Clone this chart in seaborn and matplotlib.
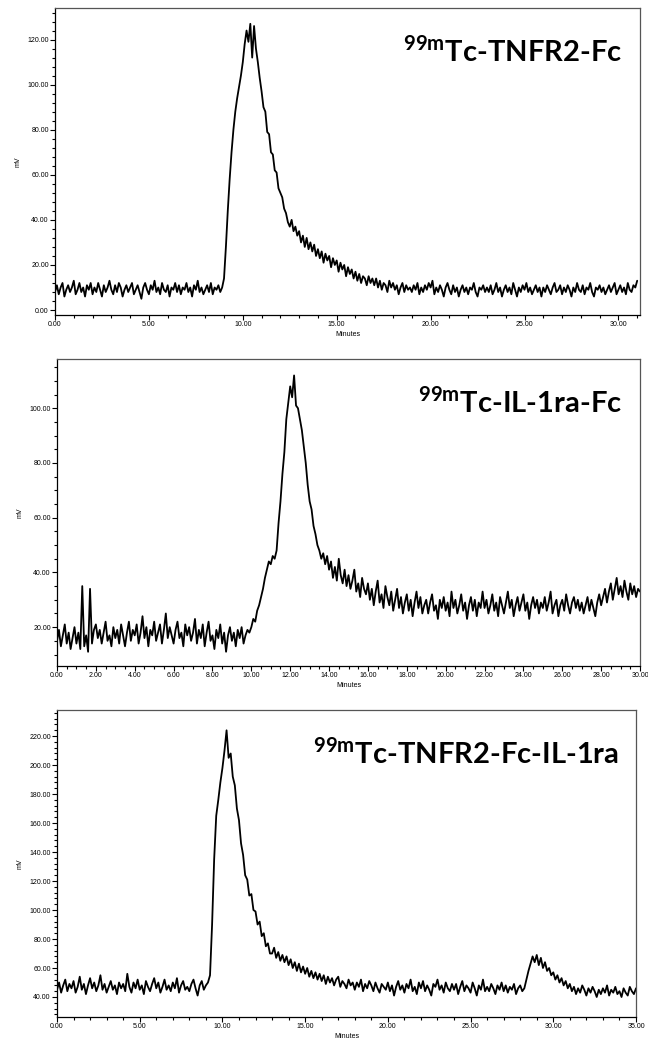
import numpy as np
import pandas as pd
import matplotlib
matplotlib.use("Agg")
import matplotlib.pyplot as plt
import matplotlib.ticker as mticker
import seaborn as sns

# panel 1: 99mTc-TNFR2-Fc, sampled every 0.1 min from 0 to 31
tnfr2_mv = [
    8, 11, 7, 10, 12, 6, 9, 11, 8, 10,
    13, 7, 9, 12, 8, 10, 6, 11, 9, 12,
    7, 10, 8, 12, 9, 6, 11, 8, 10, 13,
    9, 7, 11, 8, 12, 10, 6, 9, 11, 8,
    10, 12, 7, 9, 11, 8, 5, 10, 12, 9,
    7, 11, 9, 13, 8, 10, 7, 12, 9, 8,
    11, 6, 10, 9, 12, 8, 11, 7, 10, 9,
    12, 8, 10, 6, 11, 9, 13, 8, 10, 7,
    9, 11, 8, 12, 7, 10, 9, 11, 8, 10,
    14, 28, 44, 58, 70, 80, 88, 94, 99, 104,
    110, 118, 124, 119, 127, 112, 126, 116, 110, 103,
    97, 90, 88, 79, 78, 70, 69, 62, 61, 54,
    52, 50, 45, 43, 39, 37, 40, 35, 37, 33,
    35, 30, 33, 28, 32, 27, 30, 26, 29, 24,
    27, 23, 26, 21, 25, 22, 24, 19, 23, 20,
    22, 17, 21, 18, 20, 15, 19, 16, 18, 14,
    17, 13, 16, 12, 15, 14, 11, 15, 12, 14,
    11, 14, 10, 13, 9, 12, 11, 8, 13, 10,
    12, 9, 11, 7, 10, 12, 8, 11, 9, 10,
    8, 11, 9, 12, 7, 10, 8, 11, 9, 12,
    10, 13, 7, 10, 8, 11, 9, 6, 10, 12,
    9, 7, 11, 8, 10, 6, 9, 11, 8, 10,
    7, 10, 9, 12, 8, 6, 10, 9, 11, 8,
    10, 8, 11, 7, 9, 12, 8, 10, 6, 9,
    11, 8, 10, 7, 12, 9, 6, 10, 8, 11,
    9, 12, 8, 10, 7, 9, 11, 8, 10, 6,
    10, 8, 11, 9, 7, 10, 12, 8, 9, 11,
    7, 10, 8, 11, 9, 6, 10, 8, 12, 9,
    8, 11, 7, 10, 9, 12, 8, 6, 10, 9,
    11, 8, 10, 7, 9, 11, 8, 10, 12, 7,
    9, 11, 8, 10, 7, 12, 9, 8, 11, 10,
    13,
]

# panel 2: 99mTc-IL-1ra-Fc, sampled every 0.1 min from 0 to 30
il1ra_mv = [
    15, 19, 13, 17, 21, 14, 18, 12, 16, 20,
    14, 18, 12, 35, 13, 17, 11, 34, 14, 19,
    21, 16, 19, 14, 18, 22, 15, 17, 13, 20,
    16, 19, 14, 21, 17, 13, 18, 22, 15, 19,
    17, 21, 14, 18, 24, 16, 20, 13, 19, 17,
    22, 15, 18, 21, 14, 19, 25, 16, 20, 17,
    14, 19, 22, 16, 18, 13, 21, 17, 20, 15,
    18, 23, 14, 19, 16, 21, 13, 18, 22, 15,
    17, 12, 19, 16, 21, 14, 18, 11, 17, 20,
    15, 18, 13, 19, 16, 20, 14, 17, 19, 18,
    20, 23, 22, 26, 28, 31, 34, 38, 41, 44,
    43, 46, 45, 48, 58, 66, 76, 84, 96, 102,
    108, 104, 112, 101, 100, 96, 92, 86, 80, 72,
    66, 63, 57, 54, 50, 48, 45, 47, 43, 46,
    41, 44, 38, 42, 37, 45, 39, 36, 41, 35,
    39, 34, 37, 41, 33, 36, 31, 38, 34, 32,
    36, 30, 34, 28, 33, 37, 29, 32, 27, 35,
    31, 28, 33, 26, 30, 34, 27, 31, 25, 29,
    32, 26, 30, 24, 29, 33, 27, 31, 25, 28,
    30, 25, 29, 32, 26, 28, 23, 30, 27, 31,
    26, 29, 24, 33, 27, 30, 25, 28, 32, 26,
    29, 23, 28, 31, 26, 30, 24, 29, 27, 33,
    27, 30, 25, 28, 32, 26, 29, 24, 31, 28,
    25, 29, 33, 27, 30, 24, 28, 31, 26, 29,
    32, 26, 29, 23, 28, 31, 27, 30, 25, 29,
    27, 31, 26, 29, 33, 25, 28, 30, 24, 28,
    30, 26, 32, 28, 25, 29, 31, 27, 30, 26,
    29, 25, 28, 31, 26, 30, 27, 24, 29, 32,
    28, 31, 34, 29, 33, 36, 30, 34, 38, 32,
    35, 31, 37, 33, 30, 36, 32, 35, 31, 34,
    33,
]

# panel 3: 99mTc-TNFR2-Fc-IL-1ra, sampled every 0.125 min from 0 to 35
fusion_mv = [
    45, 50, 43, 48, 52, 44, 49, 46,
    51, 43, 47, 54, 45, 49, 42, 48,
    53, 46, 50, 44, 48, 55, 45, 49,
    43, 47, 51, 45, 48, 42, 50, 46,
    49, 44, 56, 47, 43, 50, 46, 52,
    45, 48, 42, 51, 47, 44, 49, 53,
    46, 50, 43, 47, 52, 45, 48, 44,
    50, 46, 53, 43, 48, 51, 45, 47,
    44, 49, 52, 46, 41, 48, 51, 45,
    48, 50, 55, 90, 135, 165, 176, 188,
    198, 210, 224, 205, 208, 192, 186, 170,
    162, 146, 138, 124, 121, 110, 111, 100,
    99, 90, 92, 82, 84, 75, 77, 70,
    70, 74, 67, 71, 65, 69, 64, 68,
    62, 66, 60, 64, 58, 63, 57, 61,
    56, 60, 54, 58, 53, 57, 52, 56,
    51, 55, 49, 54, 50, 53, 48, 52,
    54, 47, 51, 49, 46, 52, 48, 50,
    45, 50, 47, 52, 44, 49, 46, 51,
    48, 44, 50, 46, 43, 49, 47, 45,
    50, 44, 48, 41, 47, 51, 45, 48,
    43, 49, 46, 52, 44, 47, 42, 50,
    46, 51, 44, 48, 45, 41, 49, 47,
    52, 45, 48, 43, 50, 46, 44, 49,
    45, 49, 42, 47, 51, 44, 48, 46,
    43, 50, 46, 41, 48, 45, 52, 44,
    47, 44, 49, 46, 42, 48, 45, 50,
    44, 48, 43, 47, 45, 49, 42, 46,
    48, 44, 46, 52, 58, 63, 68, 64,
    69, 62, 67, 60, 64, 58, 60, 55,
    57, 52, 55, 50, 53, 48, 51, 46,
    49, 44, 47, 42, 46, 43, 48, 45,
    41, 46, 43, 47, 44, 40, 45, 42,
    46, 43, 48, 41, 45, 43, 47, 42,
    44, 40, 46, 43, 41, 47, 44, 42,
    46,
]

panels = [
    dict(values=tnfr2_mv, step=0.1, xlim=(0, 31.15), ylim=(-2.2, 134),
         xmajor=5, xminor=1, ymajor=20, yminor=4,
         label="Tc-TNFR2-Fc"),
    dict(values=il1ra_mv, step=0.1, xlim=(0, 30), ylim=(5.8, 118),
         xmajor=2, xminor=0.5, ymajor=20, yminor=5,
         label="Tc-IL-1ra-Fc"),
    dict(values=fusion_mv, step=0.125, xlim=(0, 35), ylim=(26.2, 238),
         xmajor=5, xminor=1, ymajor=20, yminor=4,
         label="Tc-TNFR2-Fc-IL-1ra"),
]

sns.set_style("ticks")
plt.rcParams["font.family"] = ["Liberation Sans", "DejaVu Sans"]
plt.rcParams["text.color"] = "black"
plt.rcParams["axes.labelcolor"] = "black"
plt.rcParams["xtick.color"] = "black"
plt.rcParams["ytick.color"] = "black"

fig = plt.figure(figsize=(6.48, 10.5), dpi=100)
W, H = 648, 1050
boxes = [(55, 8, 640, 315), (57, 359, 640, 666), (57, 710, 636, 1017)]

for p, (x0, y0, x1, y1) in zip(panels, boxes):
    ax = fig.add_axes([x0 / W, 1 - y1 / H, (x1 - x0) / W, (y1 - y0) / H])
    t = np.arange(len(p["values"])) * p["step"]
    df = pd.DataFrame({"Minutes": t, "mV": p["values"]})
    sns.lineplot(data=df, x="Minutes", y="mV", ax=ax, color="black",
                 lw=1.3, estimator=None, sort=False)
    ax.set_xlim(*p["xlim"])
    ax.set_ylim(*p["ylim"])
    ax.xaxis.set_major_locator(mticker.MultipleLocator(p["xmajor"]))
    ax.xaxis.set_minor_locator(mticker.MultipleLocator(p["xminor"]))
    ax.yaxis.set_major_locator(mticker.MultipleLocator(p["ymajor"]))
    ax.yaxis.set_minor_locator(mticker.MultipleLocator(p["yminor"]))
    ax.xaxis.set_major_formatter(mticker.FormatStrFormatter("%.2f"))
    ax.yaxis.set_major_formatter(mticker.FormatStrFormatter("%.2f"))
    ax.tick_params(which="major", length=3.5, width=0.8, labelsize=5, pad=1)
    ax.tick_params(which="minor", length=2, width=0.8)
    for s in ax.spines.values():
        s.set_linewidth(0.9)
        s.set_color("black")
    for s in ("top", "right"):
        ax.spines[s].set_color("#555555")
    ax.set_xlabel("Minutes", fontsize=5, labelpad=2)
    ax.set_ylabel("mV", fontsize=5, labelpad=4)
    ax.text(0.97, 0.86, r"$^{\mathregular{99m}}$" + p["label"],
            transform=ax.transAxes, ha="right", va="center", color="black",
            fontsize=21, fontweight="bold", family=["Lato", "DejaVu Sans"])

fig.savefig("out.png", dpi=100)
